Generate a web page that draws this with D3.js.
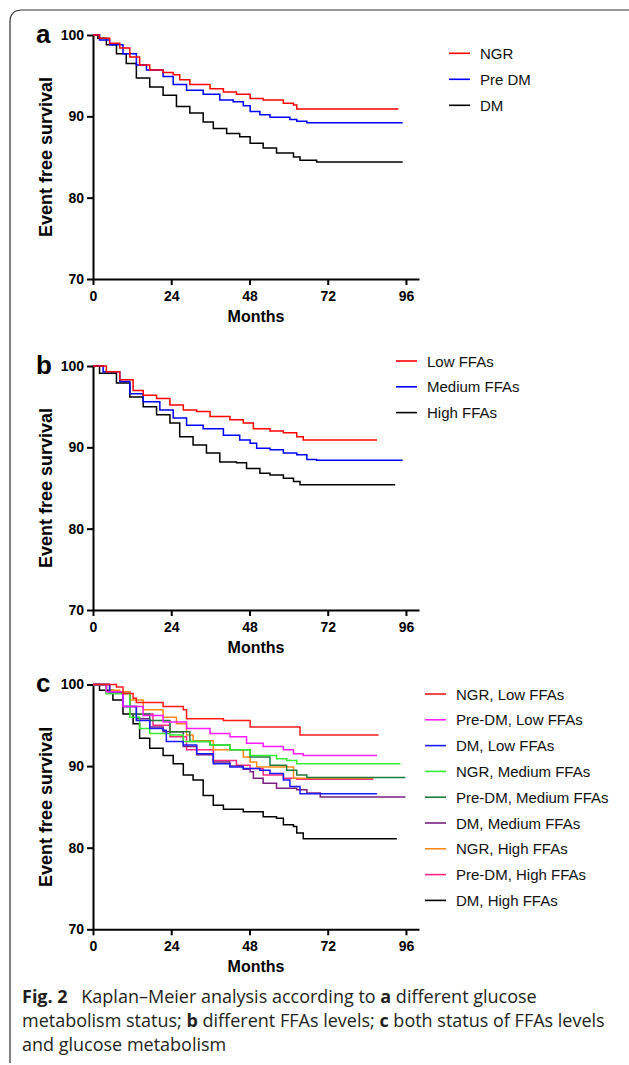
<!DOCTYPE html>
<html>
<head>
<meta charset="utf-8">
<script src="https://cdn.jsdelivr.net/npm/d3@7"></script>
<style>
  body { margin: 0; background: #fff; }
  svg { display: block; }
</style>
</head>
<body>
<svg id="chart" width="629" height="1065"></svg>
<script>
// month ticks / survival ticks
const monthTicks = [0, 24, 48, 72, 96];
const survivalTicks = [70, 80, 90, 100];

// panel a: glucose metabolism status, [month, event free survival %]
const ngrA = [[0,100],[2,99.6],[5.1,99.0],[8.2,98.4],[11.3,97.3],[14.3,96.3],[17.4,95.7],[21.5,95.4],[24.6,95.1],[26.6,94.5],[29.7,93.9],[35.9,93.4],[40,93.0],[44,92.7],[48.2,92.2],[52.2,92.0],[58.4,91.6],[61.5,91.4],[62.5,90.9],[93.7,90.9]];
const preDmA = [[0,100],[2,99.4],[5.1,98.8],[9.2,97.7],[13.3,96.3],[16.4,95.7],[21.5,94.9],[24.6,93.9],[28.7,93.2],[33.8,92.7],[38.9,92.0],[43,91.8],[46.1,91.3],[48.2,90.6],[51.2,90.2],[54.3,89.9],[60.4,89.6],[62.5,89.4],[65.6,89.2],[95,89.2]];
const dmA = [[0,100],[1.5,99.6],[4.1,98.8],[7.2,97.7],[10.2,96.5],[13.3,94.7],[17.4,93.6],[21.5,92.6],[25.6,91.2],[29.7,90.4],[33.8,89.3],[36.9,88.5],[41,87.9],[45,87.5],[48.2,86.7],[52.2,86.1],[56.3,85.5],[61.5,85.0],[63.5,84.6],[68.6,84.4],[95,84.4]];

// panel b: FFAs levels
const lowB = [[0,100],[4.1,99.3],[8.2,98.3],[12.3,97.0],[15.4,96.4],[19.5,96.0],[23.6,95.2],[27.7,94.6],[31.8,94.4],[35.9,93.8],[42,93.4],[46.1,93.0],[49.2,92.3],[54.3,92.0],[58.4,91.8],[62.5,91.3],[64.5,90.9],[87.1,90.9]];
const mediumB = [[0,100],[3.1,99.3],[8.2,98.1],[11.3,96.6],[15.4,95.6],[20.5,94.6],[24.6,93.6],[28.7,92.7],[33.8,92.3],[40,91.5],[45,90.9],[48.2,90.5],[50.2,89.9],[54.3,89.7],[58.4,89.3],[62.5,89.1],[65.6,88.5],[68.6,88.4],[95,88.4]];
const highB = [[0,100],[2,99.1],[7.2,97.9],[11.3,96.2],[15.4,95.0],[19.5,94.0],[23.6,93.0],[26.6,91.3],[30.7,90.3],[34.8,89.3],[38.9,88.2],[44,88.1],[47.1,87.4],[51.2,86.8],[54.3,86.6],[58.4,86.2],[61.5,85.8],[63.5,85.4],[92.7,85.4]];

// panel c: both
const ngrLowC = [[0,100],[7.2,99.7],[9.2,98.9],[12.3,98.3],[13.3,97.8],[21.5,97.3],[27.7,96.9],[28.7,95.8],[40,95.6],[48.2,94.8],[63.5,93.8],[87.6,93.8]];
const preDmLowC = [[0,100],[4.1,99.1],[9.2,97.3],[15.4,96.2],[21.5,95.4],[28.7,94.6],[35.9,94.0],[42,93.6],[47.1,92.8],[52.2,92.4],[58.4,92.0],[61.5,91.5],[64.5,91.3],[87.1,91.3]];
const dmLowC = [[0,100],[5.1,99.1],[9.2,97.3],[13.3,95.6],[17.4,94.6],[21.5,94.4],[22.5,93.0],[27.7,92.6],[31.8,91.5],[36.9,90.3],[42,89.9],[46.1,89.7],[51.2,89.5],[54.3,89.1],[58.4,88.3],[60.4,87.5],[63.5,86.6],[87.1,86.6]];
const ngrMedC = [[0,100],[4.1,98.9],[11.3,96.0],[14.3,94.6],[17.4,94.0],[23.6,93.8],[27.7,93.0],[35.9,92.6],[42,92.0],[48.2,91.3],[56.3,90.9],[59.4,90.7],[62.5,90.3],[94.3,90.3]];
const preDmMedC = [[0,100],[4.1,98.9],[11.3,96.4],[17.4,95.6],[23.6,94.2],[29.7,93.0],[35.9,92.6],[42,92.0],[48.2,91.1],[54.3,90.1],[59.4,89.5],[62.5,88.9],[65.6,88.6],[95.8,88.6]];
const dmMedC = [[0,100],[5.1,99.1],[9.2,97.3],[13.3,95.8],[17.4,94.8],[21.5,94.2],[27.7,92.4],[31.8,91.4],[36.9,90.5],[42,90.0],[46.1,89.6],[48.2,89.3],[49.2,88.5],[52.2,87.9],[56.3,87.3],[62.5,87.1],[65.6,86.7],[69.7,86.2],[95.8,86.2]];
const ngrHighC = [[0,100],[5.1,99.3],[8.2,99.1],[11.3,98.1],[15.4,96.9],[21.5,96.0],[25.6,95.2],[28.7,93.8],[30.7,93.1],[36.9,92.0],[46.1,91.1],[48.2,90.5],[50.2,89.9],[61.5,88.5],[86,88.5]];
const preDmHighC = [[0,100],[4.1,99.1],[11.3,96.4],[18.4,95.0],[23.6,93.6],[28.7,92.0],[36.9,90.7],[44,90.1],[48.2,89.7],[52.2,88.9],[58.4,88.5],[62.5,88.4],[86,88.4]];
const dmHighC = [[0,100],[2,99.3],[6.1,98.1],[9.2,96.4],[12.3,95.2],[14.3,93.4],[17.4,92.2],[21.5,91.3],[24.6,90.3],[27.7,88.9],[30.7,88.3],[33.8,86.4],[36.9,85.2],[40,84.7],[46.1,84.4],[52.2,83.8],[56.3,83.6],[58.4,82.8],[61.5,82.6],[62.5,81.8],[64.5,81.1],[93.2,81.1]];

const panels = [
  { letter: 'a', top: 35, bottom: 279, legendX: 449, legendY: 53.3, legendStep: 26,
    series: [
      { name: 'NGR', data: ngrA, color: '#ff0000' },
      { name: 'Pre DM', data: preDmA, color: '#0000ff' },
      { name: 'DM', data: dmA, color: '#000000' }
    ] },
  { letter: 'b', top: 366, bottom: 610, legendX: 396, legendY: 361, legendStep: 25.8,
    series: [
      { name: 'Low FFAs', data: lowB, color: '#ff0000' },
      { name: 'Medium FFAs', data: mediumB, color: '#0000ff' },
      { name: 'High FFAs', data: highB, color: '#000000' }
    ] },
  { letter: 'c', top: 684.5, bottom: 929.3, legendX: 425, legendY: 694, legendStep: 25.8,
    series: [
      { name: 'NGR, Low FFAs', data: ngrLowC, color: '#ff1a1a' },
      { name: 'Pre-DM, Low FFAs', data: preDmLowC, color: '#ff1aff' },
      { name: 'DM, Low FFAs', data: dmLowC, color: '#1a1aff' },
      { name: 'NGR, Medium FFAs', data: ngrMedC, color: '#33ee33' },
      { name: 'Pre-DM, Medium FFAs', data: preDmMedC, color: '#1f7a3c' },
      { name: 'DM, Medium FFAs', data: dmMedC, color: '#7a2082' },
      { name: 'NGR, High FFAs', data: ngrHighC, color: '#ff8a1a' },
      { name: 'Pre-DM, High FFAs', data: preDmHighC, color: '#ff2a80' },
      { name: 'DM, High FFAs', data: dmHighC, color: '#000000' }
    ] }
];

const svg = d3.select('#chart');
const font = 'Liberation Sans, Arial, Helvetica, sans-serif';

// frame around the figure
svg.append('path')
  .attr('d', 'M10,1063 L10,22 Q10,10 22,10 L629,10')
  .attr('fill', 'none')
  .attr('stroke', '#333')
  .attr('stroke-width', 1.2);

function styleAxis(ax) {
  ax.attr('font-family', font).attr('font-size', 14).attr('font-weight', 'bold');
  ax.selectAll('line, path').attr('stroke', '#000').attr('stroke-width', 2);
  ax.selectAll('text')
    .attr('fill', '#000')
    .style('font-size', '14px')
    .style('font-weight', 'bold')
    .style('font-family', font);
}

panels.forEach(p => {
  const x = d3.scaleLinear().domain([0, 100]).range([93, 419]);
  const y = d3.scaleLinear().domain([70, 100]).range([p.bottom, p.top]);
  const g = svg.append('g');

  g.append('g')
    .attr('transform', `translate(0,${p.bottom})`)
    .call(d3.axisBottom(x).tickValues(monthTicks).tickSize(6).tickPadding(6).tickSizeOuter(0))
    .call(styleAxis);

  g.append('g')
    .attr('transform', 'translate(93,0)')
    .call(d3.axisLeft(y).tickValues(survivalTicks).tickSize(6).tickPadding(3).tickSizeOuter(0))
    .call(styleAxis);

  const line = d3.line()
    .x(d => x(d[0]))
    .y(d => y(d[1]))
    .curve(d3.curveStepAfter);

  // draw in reverse so the first legend entry sits on top
  p.series.slice().reverse().forEach(s => {
    g.append('path')
      .datum(s.data)
      .attr('fill', 'none')
      .attr('stroke', s.color)
      .attr('stroke-width', 1.5)
      .attr('d', line);
  });

  g.append('text')
    .attr('x', 36)
    .attr('y', p.top + 7.5)
    .attr('font-family', font)
    .attr('font-weight', 'bold')
    .attr('font-size', 26)
    .text(p.letter);

  g.append('text')
    .attr('transform', `translate(52,${(p.top + p.bottom) / 2}) rotate(-90)`)
    .attr('text-anchor', 'middle')
    .attr('font-family', font)
    .attr('font-weight', 'bold')
    .attr('font-size', 18)
    .text('Event free survival');

  g.append('text')
    .attr('x', 256)
    .attr('y', p.bottom + 43)
    .attr('text-anchor', 'middle')
    .attr('font-family', font)
    .attr('font-weight', 'bold')
    .attr('font-size', 16)
    .text('Months');

  const leg = g.selectAll('.leg')
    .data(p.series)
    .enter()
    .append('g')
      .attr('transform', (d, i) => `translate(${p.legendX},${p.legendY + i * p.legendStep})`);
  leg.append('line')
    .attr('x1', 0).attr('x2', 21)
    .attr('stroke', d => d.color)
    .attr('stroke-width', 1.6);
  leg.append('text')
    .attr('x', 31)
    .attr('y', 5.5)
    .attr('font-family', font)
    .attr('font-size', 15)
    .attr('fill', '#111')
    .text(d => d.name);
});

// caption
const captionLines = [
  [['Fig. 2', true], ['\u2002 Kaplan\u2013Meier analysis according to ', false], ['a', true], [' different glucose', false]],
  [['metabolism status; ', false], ['b', true], [' different FFAs levels; ', false], ['c', true], [' both status of FFAs levels', false]],
  [['and glucose metabolism', false]]
];
const cap = svg.append('g');
captionLines.forEach((parts, i) => {
  const t = cap.append('text')
    .attr('x', 22)
    .attr('y', 1003 + i * 24)
    .attr('font-family', '"Open Sans", "Noto Sans", sans-serif')
    .attr('font-size', 18)
    .attr('fill', '#231f20')
    .style('white-space', 'pre');
  parts.forEach(part => {
    t.append('tspan')
      .attr('font-weight', part[1] ? 'bold' : 'normal')
      .text(part[0]);
  });
});
</script>
</body>
</html>
